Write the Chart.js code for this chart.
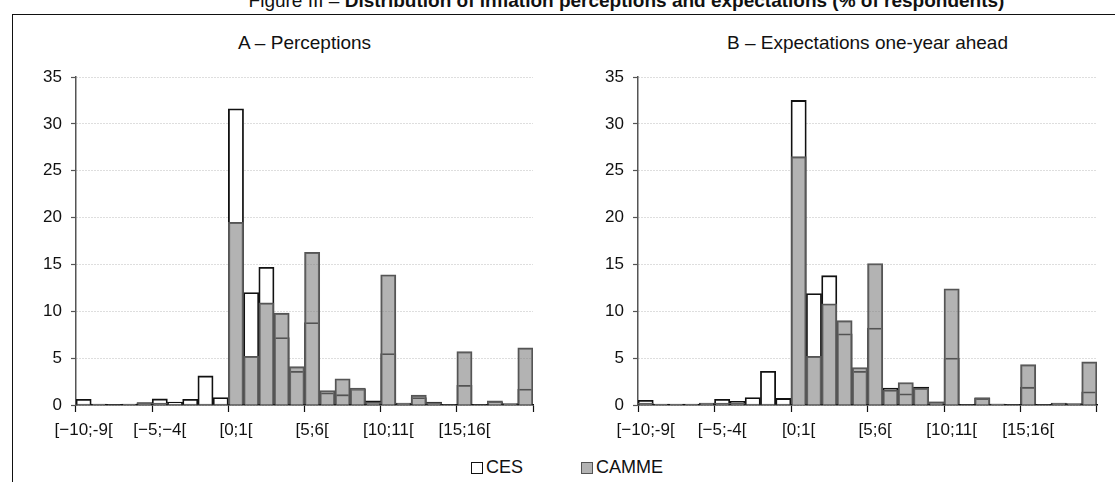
<!DOCTYPE html>
<html>
<head>
<meta charset="utf-8">
<script src="https://cdn.jsdelivr.net/npm/chart.js@4"></script>
<style>
    html, body { margin: 0; padding: 0; background: #fff; overflow: hidden; }
    body { width: 1115px; height: 482px; position: relative; font-family: "Liberation Sans", Arial, sans-serif; color: #111; }
    .frame { position: absolute; left: 12px; top: 14px; width: 1115px; height: 480px; border-left: 1.5px solid #111; border-top: 1.5px solid #111; }
    .fig-title { position: absolute; left: 69px; width: 1115px; top: -10px; text-align: center; font-size: 19px; font-weight: bold; white-space: nowrap; }
    .fig-title span { font-weight: normal; }
    .panel-title { position: absolute; top: 32px; font-size: 19px; text-align: center; white-space: nowrap; }
    .chart { position: absolute; top: 55px; width: 530px; height: 390px; }
    .legend { position: absolute; top: 457px; font-size: 18px; display: flex; align-items: center; }
    .box { display: inline-block; width: 10px; height: 10px; margin-right: 3px; }
</style>
</head>
<body>
<div class="fig-title"><span>Figure III –</span> Distribution of inflation perceptions and expectations (% of respondents)</div>
<div class="frame"></div>

<div class="panel-title" style="left:76px;width:457px">A – Perceptions</div>
<div class="panel-title" style="left:638px;width:459px">B – Expectations one-year ahead</div>

<div class="chart" style="left:12px"><canvas id="perceptions"></canvas></div>
<div class="chart" style="left:574px;width:532px"><canvas id="expectations"></canvas></div>

<div class="legend" style="left:471px"><span class="box" style="background:#fff;border:1px solid #111"></span>CES</div>
<div class="legend" style="left:581px"><span class="box" style="background:#b3b3b3;border:1px solid #555"></span>CAMME</div>

<script>
const catsA = ['[−10;-9[', '[−9;-8[', '[−8;-7[', '[−7;-6[', '[−6;-5[', '[−5;−4[', '[−4;-3[', '[−3;-2[', '[−2;-1[', '[−1;0[',
    '[0;1[', '[1;2[', '[2;3[', '[3;4[', '[4;5[', '[5;6[', '[6;7[', '[7;8[', '[8;9[', '[9;10[',
    '[10;11[', '[11;12[', '[12;13[', '[13;14[', '[14;15[', '[15;16[', '[16;17[', '[17;18[', '[18;19[', '[19;20['];
const catsB = catsA.map(c => c === '[−5;−4[' ? '[−5;-4[' : c);

const yTicks = [0, 5, 10, 15, 20, 25, 30, 35];

// A - perceptions
const cesA =   [0.6, 0.1, 0.05, 0.1, 0.25, 0.65, 0.3, 0.6, 3.1, 0.8,
                31.6, 12.0, 14.7, 7.2, 3.6, 8.8, 1.3, 1.1, 1.7, 0.45,
                5.5, 0.2, 0.8, 0.3, 0.05, 2.1, 0.05, 0.3, 0.15, 1.7];
const cammeA = [0.1, 0.05, 0.05, 0.05, 0.2, 0.2, 0.1, 0.1, 0.1, 0.1,
                19.5, 5.2, 10.9, 9.8, 4.1, 16.3, 1.55, 2.8, 1.8, 0.3,
                13.9, 0.15, 1.05, 0.25, 0.05, 5.7, 0.05, 0.45, 0.1, 6.1];

// B - expectations one-year ahead
const cesB =   [0.5, 0.1, 0.1, 0.1, 0.2, 0.6, 0.4, 0.8, 3.6, 0.7,
                32.5, 11.9, 13.8, 7.6, 3.6, 8.2, 1.8, 1.2, 1.9, 0.35,
                5.0, 0.05, 0.7, 0.1, 0.05, 1.9, 0.05, 0.2, 0.15, 1.4];
const cammeB = [0.2, 0.05, 0.05, 0.05, 0.15, 0.2, 0.2, 0.1, 0.1, 0.1,
                26.5, 5.2, 10.8, 9.0, 4.0, 15.1, 1.6, 2.4, 1.8, 0.3,
                12.4, 0.05, 0.8, 0.1, 0.05, 4.3, 0.05, 0.15, 0.1, 4.6];

const FONT = { family: '"Liberation Sans", Arial, sans-serif', size: 17 };

function makeChart(id, cats, ces, camme) {
    new Chart(document.getElementById(id), {
        type: 'bar',
        data: {
            labels: cats,
            datasets: [
                {
                    label: 'CES',
                    data: ces,
                    order: 1, // behind CAMME
                    backgroundColor: '#fff',
                    borderColor: '#111',
                    borderWidth: 1.8,
                },
                {
                    label: 'CAMME',
                    data: camme,
                    order: 0,
                    backgroundColor: 'rgba(128,128,128,0.6)',
                    borderColor: '#555',
                    borderWidth: 1.5,
                },
            ],
        },
        options: {
            responsive: true,
            maintainAspectRatio: false,
            animation: false,
            grouped: false,
            categoryPercentage: 1,
            barPercentage: 1,
            layout: { padding: { top: 22, right: 9, bottom: 0, left: 0 } },
            plugins: {
                legend: { display: false },
                tooltip: { enabled: false },
            },
            scales: {
                x: {
                    afterFit: s => { s.height = 40; },
                    ticks: {
                        autoSkip: false,
                        maxRotation: 0,
                        padding: 8,
                        color: '#111',
                        font: FONT,
                        callback: (v, i) => (i % 5 === 0 ? cats[i] : ''),
                    },
                    grid: {
                        drawOnChartArea: false,
                        tickLength: 7,
                        tickWidth: 1.2,
                        tickColor: ctx => (ctx.index === undefined || ctx.index % 5 === 0 ? '#111' : 'rgba(0,0,0,0)'),
                    },
                    border: { color: '#111', width: 1.5 },
                },
                y: {
                    min: 0,
                    max: 35,
                    afterFit: s => { s.width = 64; },
                    afterBuildTicks: s => { s.ticks = yTicks.map(v => ({ value: v })); },
                    ticks: { padding: 9, color: '#111', font: FONT },
                    grid: {
                        color: '#bdbdbd',
                        lineWidth: 1,
                        tickLength: 5,
                        tickColor: '#555',
                        tickWidth: 1.2,
                    },
                    border: { color: '#555', width: 1.5, dash: [1, 2] },
                },
            },
        },
    });
}

makeChart('perceptions', catsA, cesA, cammeA);
makeChart('expectations', catsB, cesB, cammeB);
</script>
</body>
</html>
